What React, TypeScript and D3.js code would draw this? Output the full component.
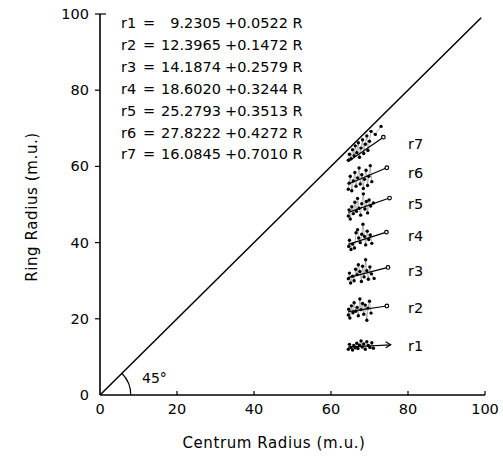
import React from "react";
import * as d3 from "d3";

const W = 503;
const H = 457;

const xTicks = [0, 20, 40, 60, 80, 100];
const yTicks = [0, 20, 40, 60, 80, 100];

const seriesNames = ["r1", "r2", "r3", "r4", "r5", "r6", "r7"];
const intercepts = [9.2305, 12.3965, 14.1874, 18.602, 25.2793, 27.8222, 16.0845];
const slopes = [0.0522, 0.1472, 0.2579, 0.3244, 0.3513, 0.4272, 0.701];
const interceptText = ["9.2305", "12.3965", "14.1874", "18.6020", "25.2793", "27.8222", "16.0845"];
const slopeText = ["0.0522", "0.1472", "0.2579", "0.3244", "0.3513", "0.4272", "0.7010"];
const lineStartX = [64.5, 64.5, 64.5, 64.5, 64.5, 64.5, 64.5];
const lineEndX = [75.5, 74.5, 74.8, 74.4, 75.2, 74.5, 73.6];

const r1Points: [number, number][] = [[64.5,12.0],[64.8,13.3],[65.2,12.5],[65.6,11.8],[65.9,13.0],[66.3,12.4],[66.7,13.6],[67.0,12.2],[67.4,13.1],[67.8,14.2],[68.1,12.6],[68.5,13.4],[68.9,12.0],[69.3,14.0],[69.7,13.0],[70.1,12.5],[70.6,13.7],[71.0,12.3]];
const r2Points: [number, number][] = [[64.5,21.0],[64.6,22.5],[64.9,20.2],[65.3,23.4],[65.7,21.6],[66.0,24.2],[66.4,22.0],[66.8,23.0],[67.1,20.8],[67.5,25.2],[67.8,22.4],[68.2,24.0],[68.5,21.2],[68.9,23.6],[69.3,19.6],[69.6,22.8],[70.0,24.6],[70.4,21.5]];
const r3Points: [number, number][] = [[64.5,30.5],[64.8,32.0],[65.1,29.4],[65.6,31.2],[66.0,30.0],[66.4,33.0],[66.8,31.6],[67.1,34.2],[67.5,32.4],[67.9,29.8],[68.2,33.8],[68.6,31.0],[69.0,35.5],[69.3,32.6],[69.7,30.4],[70.1,33.6],[70.5,31.8],[71.2,30.6]];
const r4Points: [number, number][] = [[64.6,39.0],[64.8,40.6],[65.2,38.2],[65.6,39.6],[66.1,38.6],[66.5,42.6],[66.9,43.4],[67.2,41.2],[67.6,40.0],[68.0,42.2],[68.3,44.8],[68.7,41.6],[69.0,39.4],[69.4,43.0],[69.8,40.8],[70.2,42.0],[70.6,39.8]];
const r5Points: [number, number][] = [[64.5,47.0],[64.7,48.6],[65.0,46.2],[65.4,49.4],[65.8,47.6],[66.2,50.6],[66.6,48.2],[66.9,51.6],[67.3,49.0],[67.7,47.2],[68.0,50.2],[68.4,52.8],[68.8,48.8],[69.2,50.8],[69.5,47.8],[69.9,51.2],[70.3,49.6],[71.0,50.4]];
const r6Points: [number, number][] = [[64.5,54.0],[64.7,55.6],[65.0,57.4],[65.4,53.6],[65.8,56.2],[66.2,58.4],[66.5,54.8],[66.9,57.0],[67.3,59.6],[67.6,55.4],[68.0,57.8],[68.4,54.2],[68.7,56.6],[69.1,59.0],[69.5,55.0],[69.8,57.4],[70.2,60.2],[70.6,56.0]];
const r7Points: [number, number][] = [[64.5,61.6],[64.8,63.2],[65.2,62.0],[65.6,64.4],[66.0,62.8],[66.3,65.4],[66.7,63.6],[67.1,66.2],[67.4,62.4],[67.8,64.8],[68.2,67.0],[68.5,63.4],[68.9,65.8],[69.3,68.0],[69.6,64.2],[70.0,66.6],[70.4,69.2],[71.5,68.4],[73.0,70.5]];
const allPoints = [r1Points, r2Points, r3Points, r4Points, r5Points, r6Points, r7Points];

const FONT = "'DejaVu Sans', sans-serif";

export default function App() {
  const x = d3.scaleLinear().domain([0, 100]).range([100, 485]);
  const y = d3.scaleLinear().domain([0, 100]).range([395, 14]);
  const line = d3.line<[number, number]>().x(d => x(d[0])).y(d => y(d[1]));

  const arcR = x(8) - x(0);
  const arcPath = d3.arc()({
    innerRadius: arcR,
    outerRadius: arcR,
    startAngle: Math.PI / 2,
    endAngle: Math.PI / 4,
  } as any) as string;

  return (
    <svg width={W} height={H} style={{ position: "absolute", left: 0, top: 0, background: "#fff" }}
      fontFamily={FONT}>
      <rect width={W} height={H} fill="#fff" />
      <line x1={x(0)} y1={y(0)} x2={x(100)} y2={y(0)} stroke="#000" strokeWidth={1.6} />
      <line x1={x(0)} y1={y(0)} x2={x(0)} y2={y(100)} stroke="#000" strokeWidth={1.6} />
      {xTicks.map(t => (
        <g key={"xt" + t}>
          {t > 0 && <line x1={x(t)} x2={x(t)} y1={y(0)} y2={y(0) - 4} stroke="#000" strokeWidth={1.2} />}
          <text x={x(t)} y={414} textAnchor="middle" fontSize={14.5}>{t}</text>
        </g>
      ))}
      {yTicks.map(t => (
        <g key={"yt" + t}>
          {t > 0 && <line x1={x(0) - 5} x2={x(0) + (t === 100 ? 6 : 0)} y1={y(t)} y2={y(t)} stroke="#000" strokeWidth={1.2} />}
          <text x={89} y={y(t) + 5} textAnchor="end" fontSize={14.5}>{t}</text>
        </g>
      ))}
      <path d={line([[0, 0], [99, 99]]) as string} stroke="#000" strokeWidth={1.5} fill="none" />
      <path d={arcPath} transform={`translate(${x(0)},${y(0)})`} stroke="#000" strokeWidth={1.2} fill="none" />
      <text x={142} y={383} fontSize={14}>45°</text>

      {seriesNames.map((n, i) => {
        const by = 28 + i * 21.9;
        return (
          <g key={"eq" + n} fontSize={14.5}>
            <text x={121} y={by}>{n}</text>
            <text x={143} y={by}>=</text>
            <text x={221} y={by} textAnchor="end">{interceptText[i]}</text>
            <text x={225} y={by}>{"+" + slopeText[i] + " R"}</text>
          </g>
        );
      })}

      {allPoints.map((pts, i) => {
        const x0 = lineStartX[i];
        const x1 = lineEndX[i];
        const p0: [number, number] = [x0, intercepts[i] + slopes[i] * x0];
        const p1: [number, number] = [x1, intercepts[i] + slopes[i] * x1];
        return (
          <g key={"cl" + i}>
            <path d={line(pts) as string} stroke="#000" strokeWidth={0.6} fill="none" opacity={0.5} />
            {pts.map((p, j) => (
              <circle key={j} cx={x(p[0])} cy={y(p[1])} r={1.7} fill="#000" />
            ))}
            <path d={line([p0, p1]) as string} stroke="#000" strokeWidth={1.2} fill="none" />
            {i === 0 ? (
              <path d={`M${x(p1[0]) - 5},${y(p1[1]) - 3}L${x(p1[0])},${y(p1[1])}L${x(p1[0]) - 5},${y(p1[1]) + 3}`}
                stroke="#000" strokeWidth={1.2} fill="none" />
            ) : (
              <circle cx={x(p1[0])} cy={y(p1[1])} r={1.8} fill="#fff" stroke="#000" strokeWidth={1.2} />
            )}
            <text x={408} y={y(intercepts[i] + slopes[i] * 71) + 5} fontSize={14.5}>{seriesNames[i]}</text>
          </g>
        );
      })}

      <text x={274} y={448} textAnchor="middle" fontSize={15} letterSpacing={0.6}>
        {"Centrum  Radius (m.u.)"}
      </text>
      <text transform="translate(37,207) rotate(-90)" textAnchor="middle" fontSize={15} letterSpacing={0.6}>
        Ring Radius (m.u.)
      </text>
    </svg>
  );
}
